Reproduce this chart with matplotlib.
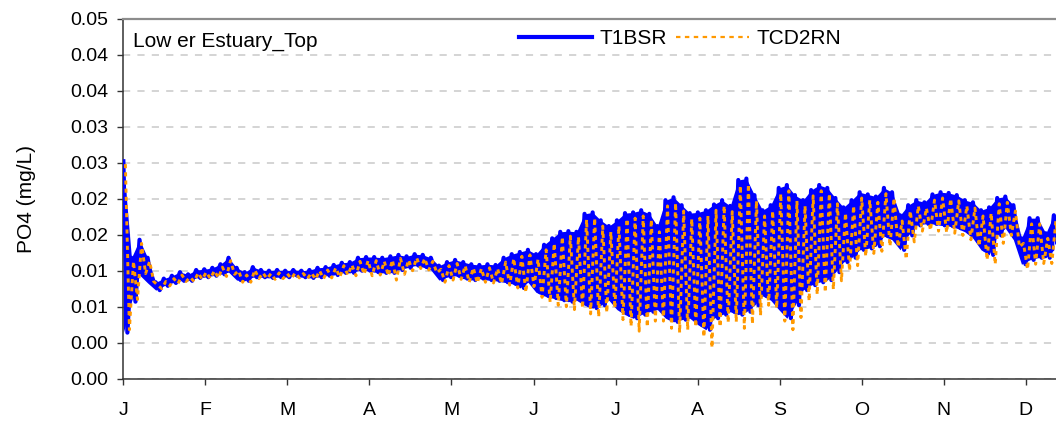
import numpy as np
import matplotlib
matplotlib.use("Agg")
import matplotlib.pyplot as plt

plt.rcParams["font.family"] = ["Liberation Sans", "DejaVu Sans"]

# -------------------------------
# Data: PO4 (mg/L), Lower Estuary top layer
# high / low envelope of the tidal signal, sampled every 3 days
# -------------------------------
step_days = 3

t1bsr_hi = [
    0.0302, 0.0168, 0.0193, 0.0168, 0.0134, 0.0139, 0.0143, 0.0148, 0.0145, 0.0151,
    0.0152, 0.0154, 0.0159, 0.0168, 0.0154, 0.0148, 0.0155, 0.0151, 0.0150, 0.0151,
    0.0150, 0.0151, 0.0150, 0.0151, 0.0154, 0.0155, 0.0158, 0.0161, 0.0162, 0.0168,
    0.0169, 0.0169, 0.0168, 0.0170, 0.0172, 0.0170, 0.0173, 0.0172, 0.0168, 0.0157,
    0.0162, 0.0165, 0.0162, 0.0159, 0.0158, 0.0159, 0.0158, 0.0168, 0.0173, 0.0176,
    0.0179, 0.0173, 0.0186, 0.0195, 0.0204, 0.0205, 0.0204, 0.0229, 0.0231, 0.0220,
    0.0212, 0.0220, 0.0230, 0.0231, 0.0234, 0.0229, 0.0212, 0.0248, 0.0252, 0.0241,
    0.0230, 0.0231, 0.0234, 0.0242, 0.0248, 0.0240, 0.0276, 0.0278, 0.0255, 0.0234,
    0.0241, 0.0265, 0.0269, 0.0255, 0.0248, 0.0262, 0.0269, 0.0265, 0.0251, 0.0238,
    0.0248, 0.0259, 0.0256, 0.0253, 0.0265, 0.0259, 0.0227, 0.0241, 0.0248, 0.0245,
    0.0256, 0.0259, 0.0258, 0.0255, 0.0248, 0.0245, 0.0234, 0.0238, 0.0251, 0.0253,
    0.0241, 0.0195, 0.0223, 0.0223, 0.0202, 0.0227,
]
t1bsr_lo = [
    0.0064, 0.0107, 0.0144, 0.0133, 0.0123, 0.0129, 0.0133, 0.0136, 0.0136, 0.0140,
    0.0141, 0.0143, 0.0145, 0.0148, 0.0137, 0.0136, 0.0141, 0.0141, 0.0140, 0.0141,
    0.0141, 0.0143, 0.0141, 0.0140, 0.0141, 0.0143, 0.0144, 0.0147, 0.0147, 0.0150,
    0.0150, 0.0148, 0.0147, 0.0147, 0.0151, 0.0154, 0.0157, 0.0155, 0.0151, 0.0137,
    0.0141, 0.0143, 0.0139, 0.0137, 0.0139, 0.0137, 0.0136, 0.0134, 0.0132, 0.0126,
    0.0134, 0.0120, 0.0115, 0.0112, 0.0109, 0.0107, 0.0109, 0.0102, 0.0098, 0.0102,
    0.0109, 0.0096, 0.0089, 0.0084, 0.0089, 0.0093, 0.0096, 0.0084, 0.0079, 0.0082,
    0.0084, 0.0075, 0.0068, 0.0084, 0.0089, 0.0093, 0.0089, 0.0093, 0.0102, 0.0115,
    0.0109, 0.0096, 0.0084, 0.0102, 0.0123, 0.0130, 0.0134, 0.0137, 0.0148, 0.0162,
    0.0168, 0.0179, 0.0181, 0.0184, 0.0198, 0.0193, 0.0179, 0.0199, 0.0213, 0.0215,
    0.0215, 0.0213, 0.0212, 0.0209, 0.0204, 0.0195, 0.0179, 0.0172, 0.0199, 0.0209,
    0.0193, 0.0159, 0.0165, 0.0168, 0.0168, 0.0179,
]
tcd2rn_hi = [
    0.0298, 0.0163, 0.0188, 0.0163, 0.0130, 0.0135, 0.0139, 0.0144, 0.0141, 0.0147,
    0.0148, 0.0150, 0.0155, 0.0164, 0.0150, 0.0144, 0.0151, 0.0147, 0.0146, 0.0147,
    0.0146, 0.0147, 0.0146, 0.0147, 0.0150, 0.0151, 0.0154, 0.0157, 0.0158, 0.0163,
    0.0164, 0.0164, 0.0163, 0.0165, 0.0167, 0.0165, 0.0168, 0.0167, 0.0163, 0.0152,
    0.0157, 0.0160, 0.0157, 0.0154, 0.0153, 0.0154, 0.0153, 0.0162, 0.0167, 0.0170,
    0.0172, 0.0166, 0.0179, 0.0188, 0.0197, 0.0198, 0.0197, 0.0221, 0.0223, 0.0212,
    0.0204, 0.0212, 0.0222, 0.0223, 0.0226, 0.0221, 0.0204, 0.0240, 0.0244, 0.0233,
    0.0222, 0.0223, 0.0226, 0.0234, 0.0240, 0.0232, 0.0268, 0.0270, 0.0247, 0.0226,
    0.0233, 0.0257, 0.0261, 0.0247, 0.0240, 0.0254, 0.0261, 0.0257, 0.0243, 0.0230,
    0.0240, 0.0251, 0.0248, 0.0245, 0.0257, 0.0251, 0.0219, 0.0233, 0.0240, 0.0237,
    0.0248, 0.0251, 0.0250, 0.0247, 0.0240, 0.0237, 0.0226, 0.0230, 0.0243, 0.0245,
    0.0233, 0.0188, 0.0215, 0.0215, 0.0195, 0.0219,
]
tcd2rn_lo = [
    0.0068, 0.0110, 0.0146, 0.0135, 0.0125, 0.0129, 0.0132, 0.0135, 0.0135, 0.0138,
    0.0139, 0.0140, 0.0142, 0.0145, 0.0134, 0.0134, 0.0139, 0.0139, 0.0138, 0.0139,
    0.0139, 0.0140, 0.0139, 0.0138, 0.0139, 0.0140, 0.0141, 0.0144, 0.0143, 0.0145,
    0.0143, 0.0144, 0.0143, 0.0137, 0.0145, 0.0150, 0.0153, 0.0151, 0.0147, 0.0134,
    0.0137, 0.0138, 0.0134, 0.0133, 0.0134, 0.0133, 0.0132, 0.0130, 0.0126, 0.0120,
    0.0128, 0.0113, 0.0106, 0.0102, 0.0100, 0.0096, 0.0098, 0.0090, 0.0086, 0.0092,
    0.0098, 0.0082, 0.0073, 0.0066, 0.0072, 0.0080, 0.0080, 0.0070, 0.0064, 0.0068,
    0.0072, 0.0058, 0.0043, 0.0072, 0.0078, 0.0079, 0.0070, 0.0076, 0.0088, 0.0102,
    0.0098, 0.0080, 0.0068, 0.0085, 0.0108, 0.0117, 0.0120, 0.0124, 0.0136, 0.0150,
    0.0157, 0.0170, 0.0174, 0.0177, 0.0184, 0.0183, 0.0166, 0.0190, 0.0205, 0.0206,
    0.0205, 0.0203, 0.0202, 0.0199, 0.0193, 0.0184, 0.0165, 0.0159, 0.0188, 0.0199,
    0.0183, 0.0152, 0.0159, 0.0160, 0.0160, 0.0170,
]

months = ["J", "F", "M", "A", "M", "J", "J", "A", "S", "O", "N", "D"]
y_ticks = [0.0, 0.005, 0.01, 0.015, 0.02, 0.025, 0.03, 0.035, 0.04, 0.045, 0.05]
y_labels = ["0.00", "0.00", "0.01", "0.01", "0.02", "0.02",
            "0.03", "0.03", "0.04", "0.04", "0.05"]


def zigzag(hi, lo, offset):
    # alternate high / low samples along the time axis
    days = np.arange(len(hi)) * step_days + offset
    x = np.column_stack([days, days + step_days / 2]).ravel()
    y = np.column_stack([hi, lo]).ravel()
    return x, y


# -------------------------------
# Plot
# -------------------------------
fig = plt.figure(figsize=(10.56, 4.26), dpi=100)
ax = fig.add_axes([0.1168, 0.1110, 0.8832, 0.8451])

days = np.arange(len(t1bsr_hi)) * step_days
xb, yb = zigzag(t1bsr_hi, t1bsr_lo, 0.0)
xo, yo = zigzag(tcd2rn_hi, tcd2rn_lo, 0.75)

# solid band between the T1BSR tidal highs and lows
ax.fill_between(days, t1bsr_lo, t1bsr_hi, color="#0000FF", lw=0, zorder=2)
ax.plot(xb, yb, color="#0000FF", lw=3.0, solid_joinstyle="round",
        label="T1BSR", zorder=3)
ax.plot(xo, yo, color="#FF9900", lw=2.1, linestyle=(0, (1.4, 1.4)),
        label="TCD2RN", zorder=4)

ax.set_xlim(0, 345.8)
ax.set_ylim(0, 0.05)

month_len = 365 / 12
ax.set_xticks(np.arange(12) * month_len)
ax.set_xticklabels(months)
ax.set_yticks(y_ticks)
ax.set_yticklabels(y_labels)

ax.tick_params(axis="both", direction="out", length=4, width=1.0,
               color="#333333", labelsize=14)
ax.tick_params(axis="x", pad=13)
ax.tick_params(axis="y", pad=7)

ax.yaxis.grid(True, color="#d4d4d4", lw=1.4, linestyle=(0, (3.7, 3.7)))
ax.set_axisbelow(True)

ax.spines["right"].set_visible(False)
ax.spines["top"].set_color("#8c8c8c")
ax.spines["top"].set_linewidth(1.6)
for side in ["left", "bottom"]:
    ax.spines[side].set_color("#333333")
    ax.spines[side].set_linewidth(1.1)

ax.set_ylabel("PO4 (mg/L)", fontsize=15)
ax.yaxis.set_label_coords(-0.094, 0.5)

ax.text(0.0104, 0.937, "Low er Estuary_Top", transform=ax.transAxes,
        fontsize=15, ha="left", va="center")

leg = ax.legend(loc="center", bbox_to_anchor=(0.597, 0.944), ncol=2,
                frameon=False, fontsize=15, handlelength=3.5,
                handletextpad=0.35, columnspacing=0.45, borderpad=0.1)
leg.get_lines()[1].set_linewidth(1.6)
leg.get_lines()[1].set_linestyle((0, (2.0, 2.0)))

fig.savefig("out.png", dpi=100)
